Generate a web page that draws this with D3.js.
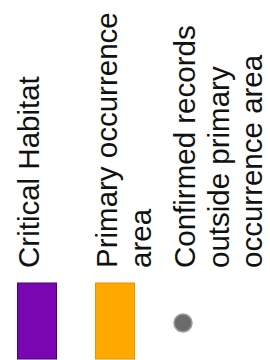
<!DOCTYPE html>
<html>
<head>
<meta charset="utf-8">
<script src="https://cdn.jsdelivr.net/npm/d3@7"></script>
<style>
  html, body { margin: 0; padding: 0; background: #ffffff; }
  svg { display: block; }
</style>
</head>
<body>
<script>
// Legend data
const categories = ["Critical Habitat", "Primary occurrence area", "Confirmed records outside primary occurrence area"];
const labelLines = [
  ["Critical Habitat"],
  ["Primary occurrence", "area"],
  ["Confirmed records", "outside primary", "occurrence area"]
];
const symbolTypes = ["rect", "rect", "circle"];
const fillColors = ["#7a06b2", "#ffa800", "#6b6b6b"];
const strokeColors = ["#4b0070", "#e89400", "#a0a0a0"];

const W = 270, H = 360;
const svg = d3.select("body").append("svg").attr("width", W).attr("height", H);

const xPos = d3.scalePoint().domain(categories).range([17, 173]);
const fill = d3.scaleOrdinal().domain(categories).range(fillColors);
const stroke = d3.scaleOrdinal().domain(categories).range(strokeColors);

const fontSize = 29.5, lineH = 33.5, textY = 268;

const items = svg.selectAll("g.item")
  .data(categories.map((c, i) => ({ c, lines: labelLines[i], type: symbolTypes[i] })))
  .join("g")
  .attr("class", "item")
  .attr("transform", d => `translate(${xPos(d.c)},0)`);

items.filter(d => d.type === "rect").append("rect")
  .attr("x", 0.5).attr("y", 283)
  .attr("width", 39).attr("height", 76)
  .attr("fill", d => fill(d.c))
  .attr("stroke", d => stroke(d.c))
  .attr("stroke-width", 1);

items.filter(d => d.type === "circle").append("circle")
  .attr("cx", 10).attr("cy", 323).attr("r", 9)
  .attr("fill", d => fill(d.c))
  .attr("stroke", d => stroke(d.c))
  .attr("stroke-width", 1.5);

items.each(function(d) {
  d3.select(this).selectAll("text")
    .data(d.lines)
    .join("text")
    .attr("transform", (t, i) => `translate(${22 + i * lineH},${textY}) rotate(-90)`)
    .attr("font-family", "Liberation Sans, Arial, sans-serif")
    .attr("font-size", fontSize)
    .attr("fill", "#111")
    .text(t => t);
});
</script>
</body>
</html>
